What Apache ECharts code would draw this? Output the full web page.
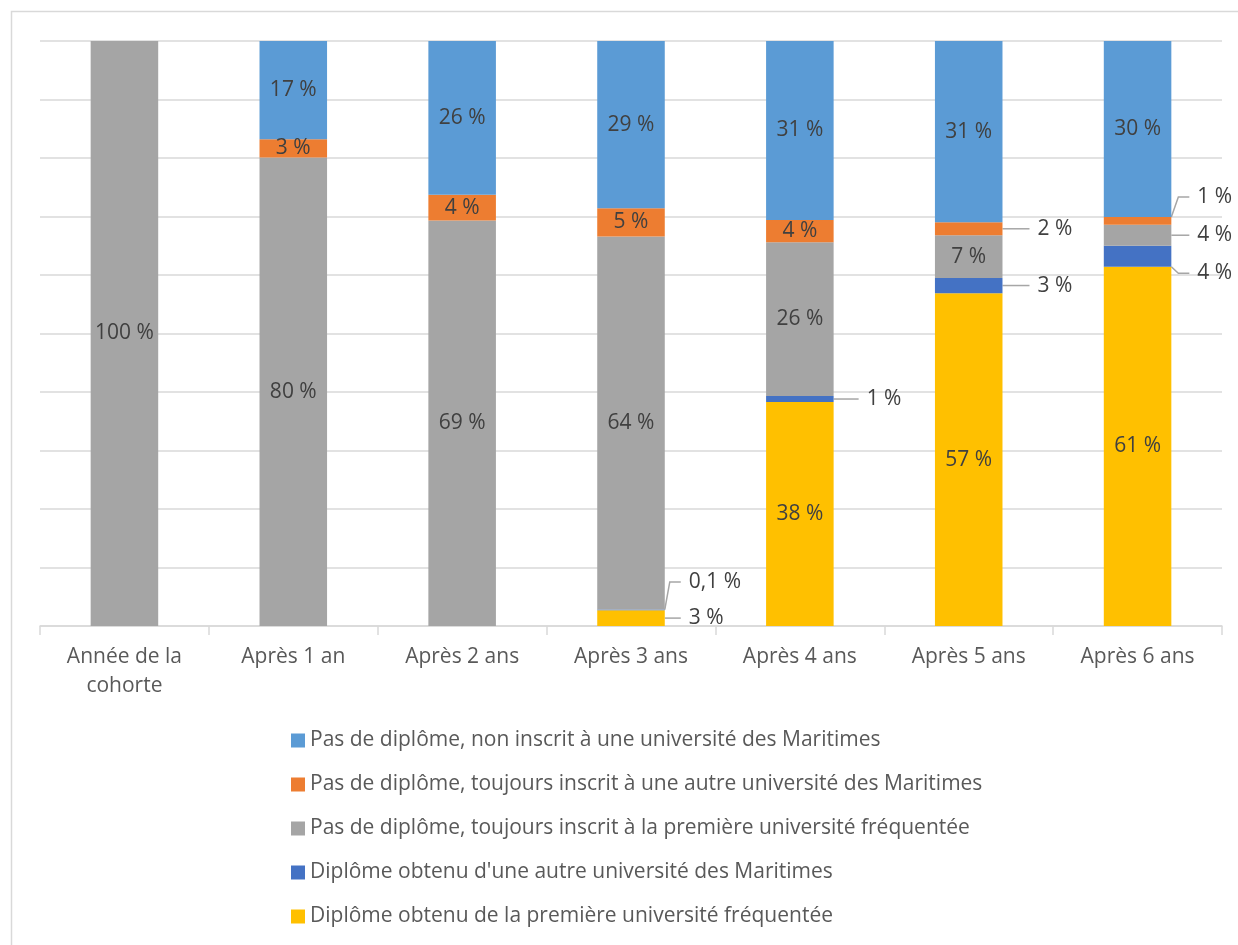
<!DOCTYPE html>
<html>
<head>
<meta charset="utf-8">
<script src="https://cdn.jsdelivr.net/npm/echarts@6/dist/echarts.min.js"></script>
<style>
  html, body { margin: 0; padding: 0; background: #ffffff; }
  #chart { width: 1238px; height: 945px; }
</style>
</head>
<body>
<div id="chart"></div>
<script>
// ---- Data ----
const categories = ['Année de la\ncohorte', 'Après 1 an', 'Après 2 ans', 'Après 3 ans', 'Après 4 ans', 'Après 5 ans', 'Après 6 ans'];
const seriesNames = [
  'Pas de diplôme, non inscrit à une université des Maritimes',
  'Pas de diplôme, toujours inscrit à une autre université des Maritimes',
  'Pas de diplôme, toujours inscrit à la première université fréquentée',
  "Diplôme obtenu d'une autre université des Maritimes",
  'Diplôme obtenu de la première université fréquentée'
];
const pasDiplomeNonInscrit   = [0, 16.8, 26.3, 28.6, 30.6, 31.0, 30.1];
const pasDiplomeAutreInscrit = [0, 3.1, 4.4, 4.8, 3.8, 2.2, 1.3];
const pasDiplomePremiere     = [100, 80.1, 69.3, 63.8, 26.3, 7.3, 3.6];
const diplomeAutre           = [0, 0, 0, 0.1, 1.0, 2.6, 3.6];
const diplomePremiere        = [0, 0, 0, 2.7, 38.3, 56.9, 61.4];

// ---- Styling / label placement (kept separate from data) ----
const colors = ['#5B9BD5', '#ED7D31', '#A5A5A5', '#4472C4', '#FFC000'];
const FONT = '"Open Sans", sans-serif';
const FS = 21;
// outside labels: key "seriesIndex|dataIndex" -> offsets
const outsideLabels = {
  '3|3': { dx: 0, dy: -28 },
  '4|3': { dx: 0, dy: 0 },
  '3|4': { dx: 9, dy: 0 },
  '1|5': { dx: 11, dy: 0 },
  '3|5': { dx: 11, dy: 0 },
  '1|6': { dx: 2, dy: -24 },
  '2|6': { dx: 2, dy: 0 },
  '3|6': { dx: 2, dy: 17 }
};

function fmt(v) {
  if (!v) return '';
  if (v < 0.5) return v.toFixed(1).replace('.', ',') + ' %';
  return Math.round(v) + ' %';
}

const valueArrays = [pasDiplomeNonInscrit, pasDiplomeAutreInscrit, pasDiplomePremiere, diplomeAutre, diplomePremiere];

function buildSeries(idx) {
  const data = valueArrays[idx].map((v, i) => {
    const key = idx + '|' + i;
    if (outsideLabels[key]) {
      return {
        value: v,
        label: {
          position: 'right',
          distance: 16,
          padding: [0, 0, 0, 8],
          backgroundColor: 'rgba(255,255,255,0)'
        },
        labelLine: { show: true, length2: 11, lineStyle: { color: '#A6A6A6', width: 1.5 } }
      };
    }
    return v;
  });
  return {
    name: seriesNames[idx],
    type: 'bar',
    stack: 'total',
    barWidth: '40%',
    itemStyle: { color: colors[idx] },
    label: {
      show: true,
      position: 'inside',
      color: '#404040',
      fontSize: FS,
      fontFamily: FONT,
      formatter: p => fmt(p.value)
    },
    labelLayout: function (params) {
      const o = outsideLabels[idx + '|' + params.dataIndex];
      if (o) return { dx: o.dx, dy: o.dy };
      return {};
    },
    data: data
  };
}

// stack from bottom: yellow, dark blue, gray, orange, light blue
const series = [4, 3, 2, 1, 0].map(buildSeries);

const chart = echarts.init(document.getElementById('chart'), null, { renderer: 'canvas' });
chart.setOption({
  animation: false,
  backgroundColor: '#ffffff',
  graphic: [{
    type: 'rect',
    silent: true,
    z: -10,
    shape: { x: 11.5, y: 11.5, width: 1400, height: 1100 },
    style: { fill: 'none', stroke: '#D9D9D9', lineWidth: 1.5 }
  }],
  grid: { left: 40, right: 16, top: 41, bottom: 319, containLabel: false },
  legend: {
    orient: 'vertical',
    left: 291,
    top: 730,
    padding: 0,
    itemWidth: 14,
    itemHeight: 14,
    itemGap: 23,
    icon: 'rect',
    data: seriesNames,
    textStyle: { fontSize: FS, color: '#595959', fontFamily: FONT, lineHeight: 21 }
  },
  xAxis: {
    type: 'category',
    data: categories,
    axisLine: { lineStyle: { color: '#D9D9D9', width: 1.5 } },
    axisTick: { show: true, length: 9, lineStyle: { color: '#D9D9D9', width: 1.5 } },
    axisLabel: { color: '#595959', fontSize: FS, fontFamily: FONT, lineHeight: 29, margin: 17, interval: 0 }
  },
  yAxis: {
    type: 'value',
    min: 0,
    max: 100,
    interval: 10,
    axisLabel: { show: false },
    axisLine: { show: false },
    axisTick: { show: false },
    splitLine: { lineStyle: { color: '#D9D9D9', width: 1.5 } }
  },
  series: series
});
</script>
</body>
</html>
